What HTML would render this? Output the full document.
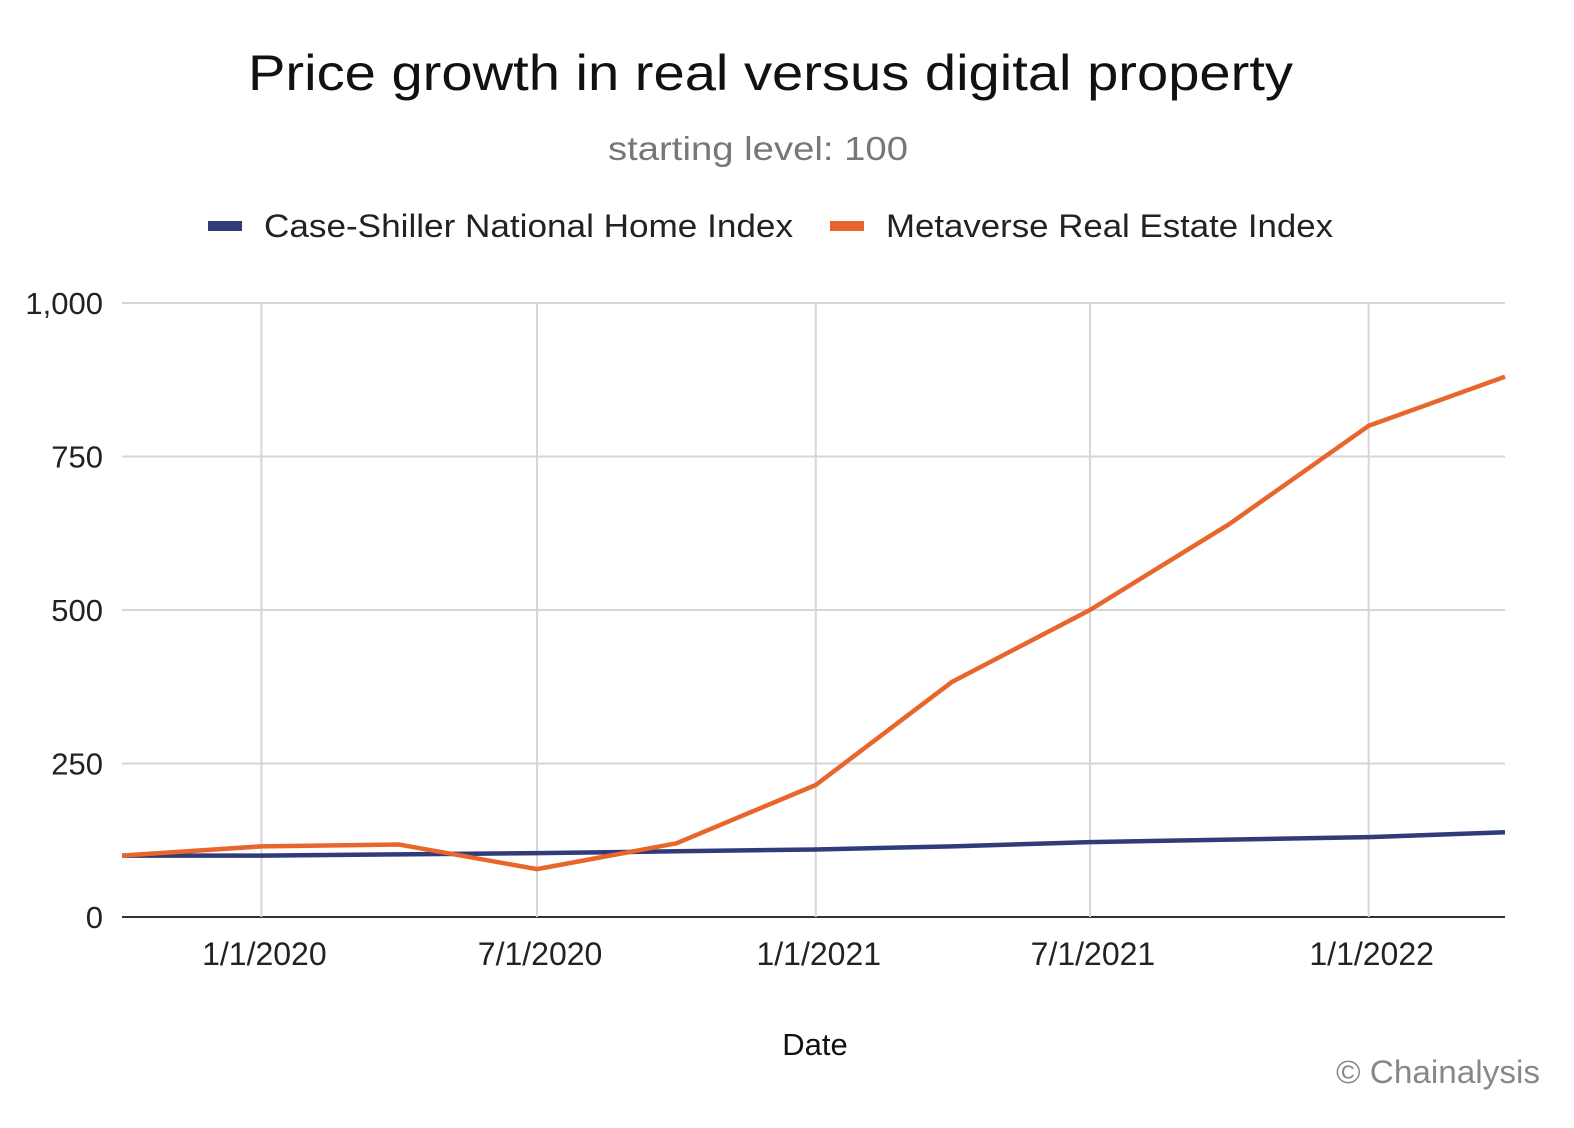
<!DOCTYPE html>
<html><head><meta charset="utf-8"><style>
body{margin:0;background:#fff;width:1574px;height:1123px;overflow:hidden;font-family:"Liberation Sans","DejaVu Sans",sans-serif}
</style></head><body>
<svg id="chart" width="1574" height="1123" xmlns="http://www.w3.org/2000/svg" font-family="Liberation Sans, DejaVu Sans, sans-serif">
<text x="248" y="90" font-size="50" textLength="1045" lengthAdjust="spacingAndGlyphs" fill="#111">Price growth in real versus digital property</text>
<text x="608" y="160" font-size="33" textLength="300" lengthAdjust="spacingAndGlyphs" fill="#777">starting level: 100</text>
<g>
<rect x="208" y="221" width="34" height="10" fill="#303b7a"/>
<text x="264" y="237" font-size="32" textLength="529" lengthAdjust="spacingAndGlyphs" fill="#222">Case-Shiller National Home Index</text>
</g>
<g>
<rect x="830" y="221" width="34" height="10" fill="#e8652b"/>
<text x="886" y="237" font-size="32" textLength="447" lengthAdjust="spacingAndGlyphs" fill="#222">Metaverse Real Estate Index</text>
</g>
<g id="grid"></g>
<g id="marks"></g>
<text x="815" y="1055" font-size="31" text-anchor="middle" fill="#111">Date</text>
<text x="1336" y="1083" font-size="32" textLength="204" lengthAdjust="spacingAndGlyphs" fill="#888">© Chainalysis</text>
</svg>
<script>
const dates=["2019-10-01","2020-01-01","2020-04-01","2020-07-01","2020-10-01","2021-01-01","2021-04-01","2021-07-01","2021-10-01","2022-01-01","2022-04-01"];
const caseShiller=[100,100,102,104,107,110,115,122,126,130,138];
const metaverse=[100,115,118,78,120,215,383,500,640,800,880];
const yTicks=[0,250,500,750,1000];
const yTickLabels=["0","250","500","750","1,000"];
const xTicks=["2020-01-01","2020-07-01","2021-01-01","2021-07-01","2022-01-01"];
const xTickLabels=["1/1/2020","7/1/2020","1/1/2021","7/1/2021","1/1/2022"];
const NS="http://www.w3.org/2000/svg";
const x0=122,x1=1505,yb=917,yt=303;
const t0=Date.parse(dates[0]),t1=Date.parse(dates[dates.length-1]);
const xs=d=>x0+(Date.parse(d)-t0)/(t1-t0)*(x1-x0);
const ys=v=>yb-v/1000*(yb-yt);
function mk(tag,attrs,parent){const e=document.createElementNS(NS,tag);for(const k in attrs)e.setAttribute(k,attrs[k]);parent.appendChild(e);return e;}
const grid=document.getElementById('grid');
yTicks.forEach((v,i)=>{
 const l=mk('line',{x1:x0,x2:x1,y1:ys(v),y2:ys(v),stroke:v===0?'#333':'#d6d6d6','stroke-width':2},grid);
 
 
 const t=mk('text',{x:103,y:ys(v)+11,'font-size':31,'text-anchor':'end',fill:'#222'},grid);
 t.textContent=yTickLabels[i];
 
 
});
xTicks.forEach((d,i)=>{
 const l=mk('line',{x1:xs(d),x2:xs(d),y1:yt,y2:yb,stroke:'#d6d6d6','stroke-width':2},grid);
 
 
 const t=mk('text',{x:xs(d)+3,y:965,'font-size':32,'text-anchor':'middle',fill:'#222'},grid);
 t.textContent=xTickLabels[i];
 
 
});
const marks=document.getElementById('marks');
function line(vals,color,name){
 const p=mk('polyline',{points:vals.map((v,i)=>xs(dates[i])+','+ys(v)).join(' '),fill:'none',stroke:color,'stroke-width':4.5,'stroke-linejoin':'round'},marks);
 
 
}
line(caseShiller,'#303b7a','case-shiller-line');
line(metaverse,'#e8652b','metaverse-line');
</script>
</body></html>
